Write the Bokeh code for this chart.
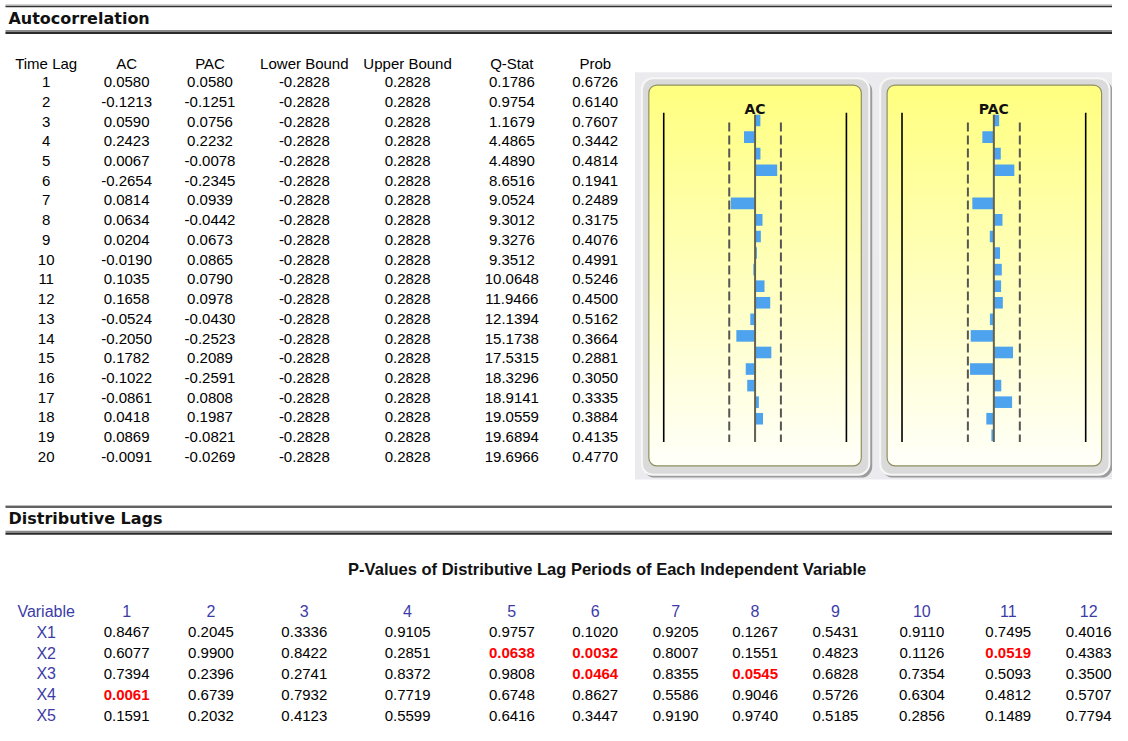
import numpy as np
from bokeh.plotting import figure
from bokeh.models import Range1d
from bokeh.core.properties import value
from bokeh.embed import file_html
from bokeh.resources import INLINE

# ---------------- data ----------------
lags = [1, 2, 3, 4, 5, 6, 7, 8, 9, 10, 11, 12, 13, 14, 15, 16, 17, 18, 19, 20]
ac = [0.0580, -0.1213, 0.0590, 0.2423, 0.0067, -0.2654, 0.0814, 0.0634, 0.0204, -0.0190,
      0.1035, 0.1658, -0.0524, -0.2050, 0.1782, -0.1022, -0.0861, 0.0418, 0.0869, -0.0091]
pac = [0.0580, -0.1251, 0.0756, 0.2232, -0.0078, -0.2345, 0.0939, -0.0442, 0.0673, 0.0865,
       0.0790, 0.0978, -0.0430, -0.2523, 0.2089, -0.2591, 0.0808, 0.1987, -0.0821, -0.0269]
lower_bound = [-0.2828, -0.2828, -0.2828, -0.2828, -0.2828, -0.2828, -0.2828, -0.2828, -0.2828, -0.2828,
               -0.2828, -0.2828, -0.2828, -0.2828, -0.2828, -0.2828, -0.2828, -0.2828, -0.2828, -0.2828]
upper_bound = [0.2828, 0.2828, 0.2828, 0.2828, 0.2828, 0.2828, 0.2828, 0.2828, 0.2828, 0.2828,
               0.2828, 0.2828, 0.2828, 0.2828, 0.2828, 0.2828, 0.2828, 0.2828, 0.2828, 0.2828]
q_stat = [0.1786, 0.9754, 1.1679, 4.4865, 4.4890, 8.6516, 9.0524, 9.3012, 9.3276, 9.3512,
          10.0648, 11.9466, 12.1394, 15.1738, 17.5315, 18.3296, 18.9141, 19.0559, 19.6894, 19.6966]
prob = [0.6726, 0.6140, 0.7607, 0.3442, 0.4814, 0.1941, 0.2489, 0.3175, 0.4076, 0.4991,
        0.5246, 0.4500, 0.5162, 0.3664, 0.2881, 0.3050, 0.3335, 0.3884, 0.4135, 0.4770]
ac_headers = ["Time Lag", "AC", "PAC", "Lower Bound", "Upper Bound", "Q-Stat", "Prob"]

variables = ["X1", "X2", "X3", "X4", "X5"]
lag_periods = [1, 2, 3, 4, 5, 6, 7, 8, 9, 10, 11, 12]
p_x1 = [0.8467, 0.2045, 0.3336, 0.9105, 0.9757, 0.1020, 0.9205, 0.1267, 0.5431, 0.9110, 0.7495, 0.4016]
p_x2 = [0.6077, 0.9900, 0.8422, 0.2851, 0.0638, 0.0032, 0.8007, 0.1551, 0.4823, 0.1126, 0.0519, 0.4383]
p_x3 = [0.7394, 0.2396, 0.2741, 0.8372, 0.9808, 0.0464, 0.8355, 0.0545, 0.6828, 0.7354, 0.5093, 0.3500]
p_x4 = [0.0061, 0.6739, 0.7932, 0.7719, 0.6748, 0.8627, 0.5586, 0.9046, 0.5726, 0.6304, 0.4812, 0.5707]
p_x5 = [0.1591, 0.2032, 0.4123, 0.5599, 0.6416, 0.3447, 0.9190, 0.9740, 0.5185, 0.2856, 0.1489, 0.7794]
p_values = [p_x1, p_x2, p_x3, p_x4, p_x5]
significance = 0.1

# ---------------- layout / style ----------------
W, H = 1112, 725
X0, X1 = 4, 1124      # visible span (reference pixel units)
Y0, Y1 = 4, 741
FONT = value("Liberation Sans")
HFONT = value("DejaVu Sans")
BLUE = "#3c3ca8"

p = figure(width=W, height=H, x_range=Range1d(X0, X1), y_range=Range1d(Y1, Y0),
           output_backend="svg", toolbar_location=None, min_border=0,
           x_axis_location=None, y_axis_location=None)
p.grid.visible = False
p.outline_line_color = None
p.background_fill_color = "white"
p.border_fill_color = "white"

# bar-panel scales (value -> horizontal, lag -> vertical)
ac_c, ac_s = 764.0, 92.0
pac_c, pac_s = 1004.5, 92.5
lag_top, lag_step = 126.0, 16.842
p.extra_x_ranges = {
    "ac": Range1d((X0 - ac_c) / ac_s, (X1 - ac_c) / ac_s),
    "pac": Range1d((X0 - pac_c) / pac_s, (X1 - pac_c) / pac_s),
}
p.extra_y_ranges = {"lag": Range1d(1 + (Y1 - lag_top) / lag_step, 1 + (Y0 - lag_top) / lag_step)}


def txt(xs, ys, texts, size="15px", font=FONT, color="black", style="normal",
        align="center", baseline="middle"):
    p.text(x=xs, y=ys, text=texts, text_font=font, text_font_size=size,
           text_color=color, text_font_style=style, text_align=align,
           text_baseline=baseline)


def section_header(title, y0):
    p.segment(x0=[9], y0=[y0 - 1.5], x1=[1128], y1=[y0 - 1.5], line_color="#b0b0b0", line_width=1)
    p.segment(x0=[9], y0=[y0], x1=[1128], y1=[y0], line_color="#303030", line_width=1.5)
    p.segment(x0=[9], y0=[y0 + 25], x1=[1128], y1=[y0 + 25], line_color="#8a8a8a", line_width=2)
    p.segment(x0=[9], y0=[y0 + 27], x1=[1128], y1=[y0 + 27], line_color="#2a2a2a", line_width=2)
    txt([12], [y0 + 12], [title], size="16px", font=HFONT, style="bold",
        align="left", baseline="middle", color="#111111")


section_header("Autocorrelation", 10)
section_header("Distributive Lags", 519)

# ---------------- autocorrelation table ----------------
top_cols = [50, 131, 215, 310, 414, 519, 603]
txt(top_cols, [68] * len(top_cols), ac_headers)
row_y = [87 + 20.05 * i for i in range(len(lags))]
columns = [
    [str(v) for v in lags],
    ["%.4f" % v for v in ac],
    ["%.4f" % v for v in pac],
    ["%.4f" % v for v in lower_bound],
    ["%.4f" % v for v in upper_bound],
    ["%.4f" % v for v in q_stat],
    ["%.4f" % v for v in prob],
]
for cx, col in zip(top_cols, columns):
    txt([cx] * len(col), row_y, col)

# ---------------- correlogram panels ----------------
p.quad(left=[643], right=[1126], top=[77], bottom=[491], fill_color="#ebebef", line_color=None)

top_rgb = np.array([255, 255, 130])
bot_rgb = np.array([255, 255, 248])


def panel(l, r, rng, values, title):
    # frame with shadow
    p.quad(left=[l + 2], right=[r + 3], top=[85], bottom=[489], fill_color="#9c9c9c",
           line_color=None, border_radius=11)
    p.quad(left=[l], right=[r], top=[83], bottom=[486], fill_color="#dadada",
           line_color="#f7f7f7", line_width=2, border_radius=11)
    il, ir, it, ib = l + 7, r - 8, 90, 477
    rad = 8
    p.quad(left=[il], right=[ir], top=[it], bottom=[ib], fill_color="#%02x%02x%02x" % tuple(top_rgb),
           line_color=None, border_radius=rad)
    p.quad(left=[il], right=[ir], top=[ib - 2 * rad], bottom=[ib],
           fill_color="#%02x%02x%02x" % tuple(bot_rgb), line_color=None, border_radius=rad)
    n = 80
    edges = np.linspace(it + rad, ib - rad, n + 1)
    cols = []
    for k in range(n):
        t = (k + 0.5) / n
        c = (top_rgb * (1 - t) + bot_rgb * t).astype(int)
        cols.append("#%02x%02x%02x" % tuple(c))
    p.quad(left=[il] * n, right=[ir] * n, top=list(edges[:-1]), bottom=list(edges[1:] + 0.6),
           fill_color=cols, line_color=None)
    p.quad(left=[il], right=[ir], top=[it], bottom=[ib], fill_color=None,
           line_color="#8f8f60", line_width=1.2, border_radius=rad)

    # bounds and axis lines
    p.segment(x0=[-1, 1], y0=[0.53, 0.53], x1=[-1, 1], y1=[20.4, 20.4],
              x_range_name=rng, y_range_name="lag", line_color="black", line_width=1.6)
    p.segment(x0=[lower_bound[0], upper_bound[0]], y0=[1.12, 1.12],
              x1=[lower_bound[0], upper_bound[0]], y1=[20.4, 20.4],
              x_range_name=rng, y_range_name="lag", line_color="#555555", line_width=2,
              line_dash="9 4")
    p.hbar(y=lags, left=0, right=values, height=0.7, x_range_name=rng, y_range_name="lag",
           fill_color="#4ea3ee", line_color=None)
    p.segment(x0=[0], y0=[0.65], x1=[0], y1=[20.4], x_range_name=rng, y_range_name="lag",
              line_color="#626250", line_width=2)
    p.text(x=[0], y=[114], text=[title], x_range_name=rng, text_font=HFONT,
           text_font_size="14px", text_font_style="bold", text_color="#111111",
           text_align="center", text_baseline="middle")


panel(650, 879, "ac", ac, "AC")
panel(890, 1121, "pac", pac, "PAC")

# ---------------- distributive lags table ----------------
txt([615], [582], ["P-Values of Distributive Lag Periods of Each Independent Variable"],
    size="16.5px", style="bold", color="#111111")
bot_cols = [131, 216, 310, 414, 519, 603, 684, 764, 845, 932, 1019, 1100]
txt([50], [625], ["Variable"], size="16px", color=BLUE)
txt(bot_cols, [625] * len(bot_cols), [str(v) for v in lag_periods], size="16px", color=BLUE)
brow_y = [646 + 21.3 * i for i in range(len(variables))]
txt([50] * len(variables), brow_y, variables, size="16px", color=BLUE)
for i, row in enumerate(p_values):
    for cx, v in zip(bot_cols, row):
        sig = v < significance
        txt([cx], [brow_y[i]], ["%.4f" % v], size="15px",
            color="#ff0000" if sig else "black", style="bold" if sig else "normal")

open("out.html", "w").write(file_html(p, INLINE))
